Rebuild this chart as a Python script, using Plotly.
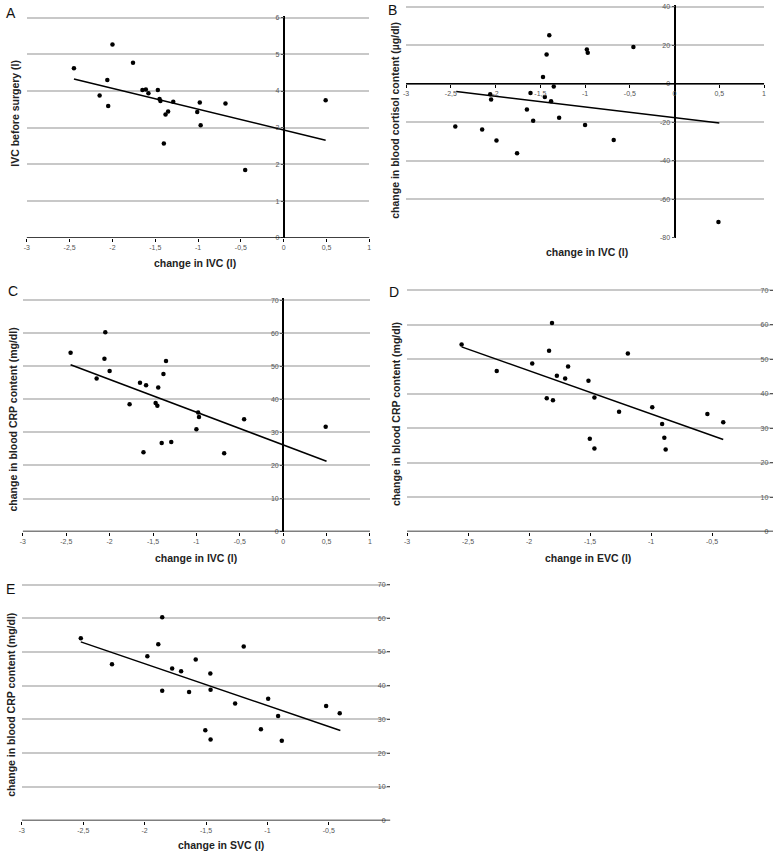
import plotly.graph_objects as go

W, H = 776, 858

# ---------------- data ----------------
# A: change in IVC vs IVC before surgery
a_x = [-2.45, -2.15, -2.06, -2.05, -2.00, -1.76, -1.65, -1.61, -1.58, -1.47, -1.45,
       -1.44, -1.40, -1.38, -1.35, -1.29, -1.01, -0.98, -0.97, -0.68, -0.45, 0.49]
a_y = [4.62, 3.88, 4.30, 3.59, 5.27, 4.77, 4.03, 4.04, 3.94, 4.03, 3.78,
       3.73, 2.57, 3.36, 3.44, 3.71, 3.43, 3.69, 3.07, 3.66, 1.85, 3.75]
a_trend_x = [-2.45, 0.49]
a_trend_y = [4.33, 2.66]

# B: change in IVC vs change in blood cortisol
b_x = [-2.45, -2.15, -2.06, -2.05, -1.99, -1.76, -1.65, -1.61, -1.58, -1.47, -1.45,
       -1.43, -1.40, -1.38, -1.35, -1.29, -1.00, -0.98, -0.97, -0.68, -0.46, 0.49]
b_y = [-22.2, -23.8, -5.5, -8.3, -29.6, -36.1, -13.4, -4.8, -19.3, 3.4, -6.9,
       15.1, 25.1, -9.1, -1.5, -17.7, -21.5, 17.7, 16.0, -29.3, 19.1, -71.9]
b_trend_x = [-2.44, 0.50]
b_trend_y = [-4.1, -20.4]

# C: change in IVC vs change in CRP
c_x = [-2.45, -2.15, -2.06, -2.05, -2.00, -1.77, -1.65, -1.61, -1.58, -1.47, -1.45,
       -1.44, -1.40, -1.38, -1.35, -1.29, -1.00, -0.98, -0.97, -0.68, -0.45, 0.49]
c_y = [54.1, 46.3, 52.3, 60.3, 48.6, 38.5, 45.0, 24.0, 44.3, 38.9, 38.1,
       43.6, 26.8, 47.7, 51.6, 27.1, 31.0, 36.0, 34.7, 23.7, 34.0, 31.7]
c_trend_x = [-2.45, 0.50]
c_trend_y = [50.5, 21.3]

# D: change in EVC vs change in CRP
d_x = [-2.553, -2.265, -1.974, -1.855, -1.836, -1.812, -1.804, -1.772, -1.704, -1.680, -1.513,
       -1.502, -1.464, -1.464, -1.262, -1.190, -0.990, -0.909, -0.891, -0.880, -0.538, -0.408]
d_y = [54.3, 46.6, 48.8, 38.7, 52.5, 60.5, 38.1, 45.2, 44.4, 47.9, 43.75,
       26.9, 38.9, 24.1, 34.8, 51.7, 36.1, 31.2, 27.2, 23.8, 34.1, 31.7]
d_trend_x = [-2.553, -0.408]
d_trend_y = [53.6, 26.7]

# E: change in SVC vs change in CRP
e_x = [-2.520, -2.266, -1.978, -1.889, -1.857, -1.857, -1.776, -1.703, -1.638, -1.584, -1.506,
       -1.465, -1.463, -1.463, -1.263, -1.193, -1.053, -0.994, -0.913, -0.883, -0.522, -0.411]
e_y = [54.1, 46.4, 48.7, 52.3, 60.3, 38.5, 45.1, 44.3, 38.1, 47.8, 26.8,
       43.6, 38.8, 24.0, 34.7, 51.6, 27.1, 36.1, 31.0, 23.7, 34.0, 31.8]
e_trend_x = [-2.52, -0.406]
e_trend_y = [53.0, 26.7]

# ticks
x_ticks_full = [-3, -2.5, -2, -1.5, -1, -0.5, 0, 0.5, 1]
x_ticktext_full = ["-3", "-2,5", "-2", "-1,5", "-1", "-0,5", "0", "0,5", "1"]
x_ticks_neg = [-3, -2.5, -2, -1.5, -1, -0.5]
x_ticktext_neg = ["-3", "-2,5", "-2", "-1,5", "-1", "-0,5"]
y_ticks_a = [0, 1, 2, 3, 4, 5, 6]
y_ticks_b = [-80, -60, -40, -20, 0, 20, 40]
y_ticks_crp = [0, 10, 20, 30, 40, 50, 60, 70]

# ---------------- layout helpers ----------------
FONT = "Liberation Sans, Arial, sans-serif"
TICKFONT = dict(family=FONT, size=7, color="#555555")
TITLEFONT = dict(family=FONT, size=10.5, color="#222222")
PAD = 2.0  # px of headroom above the top tick so its grid line is drawn

fig = go.Figure()
annotations = []
shapes = []
layout = {}


def px_x(p):
    return p / W


def px_y(p):
    return 1 - p / H


panels = [
    dict(letter="A", x=a_x, y=a_y, tx=a_trend_x, ty=a_trend_y, xr=[-3, 1], yr=[0, 6],
         xt=x_ticks_full, xtt=x_ticktext_full, yt=y_ticks_a,
         box=(24, 368.7, 15.7, 237.3), xtitle="change in IVC (l)",
         ytitle="IVC before surgery (l)", xtpos=(193, 263), ytpos=(12.5, 112),
         lpos=(8.5, 11.5)),
    dict(letter="B", x=b_x, y=b_y, tx=b_trend_x, ty=b_trend_y, xr=[-3, 1], yr=[-80, 40],
         xt=x_ticks_full, xtt=x_ticktext_full, yt=y_ticks_b,
         box=(405.7, 766, 4.7, 237), xtitle="change in IVC (l)",
         ytitle="change in blood cortisol content (µg/dl)", xtpos=(588, 251), ytpos=(395, 119),
         lpos=(392, 8)),
    dict(letter="C", x=c_x, y=c_y, tx=c_trend_x, ty=c_trend_y, xr=[-3, 1], yr=[0, 70],
         xt=x_ticks_full, xtt=x_ticktext_full, yt=y_ticks_crp,
         box=(20, 369.3, 300, 532.7), xtitle="change in IVC (l)",
         ytitle="change in blood CRP content (mg/dl)", xtpos=(194, 559), ytpos=(10, 420),
         lpos=(10, 290.5)),
    dict(letter="D", x=d_x, y=d_y, tx=d_trend_x, ty=d_trend_y, xr=[-3, 0], yr=[0, 70],
         xt=x_ticks_neg, xtt=x_ticktext_neg, yt=y_ticks_crp,
         box=(406.7, 775, 290, 532.7), xtitle="change in EVC (l)",
         ytitle="change in blood CRP content (mg/dl)", xtpos=(589, 559), ytpos=(395, 414),
         lpos=(393.5, 291.5)),
    dict(letter="E", x=e_x, y=e_y, tx=e_trend_x, ty=e_trend_y, xr=[-3, 0], yr=[0, 70],
         xt=x_ticks_neg, xtt=x_ticktext_neg, yt=y_ticks_crp,
         box=(19, 389.7, 586, 823.3), xtitle="change in SVC (l)",
         ytitle="change in blood CRP content (mg/dl)", xtpos=(219, 848), ytpos=(8, 707),
         lpos=(7.7, 590)),
]

for i, p in enumerate(panels):
    n = "" if i == 0 else str(i + 1)
    xa, ya = "x" + n, "y" + n
    l, r, t, b = p["box"]
    x0, x1 = p["xr"]
    y0, y1 = p["yr"]
    # add a little headroom above the top tick (grid lines at the range ends are not drawn)
    per_px = (y1 - y0) / (b - t)
    yrange = [y0, y1 + PAD * per_px]
    t = t - PAD
    xdom = [px_x(l), px_x(r)]
    ydom = [px_y(b), px_y(t)]
    # paper position of the crossing axes (x = 0 and y = 0)
    yaxis_pos = xdom[0] + (0 - x0) / (x1 - x0) * (xdom[1] - xdom[0])
    xaxis_pos = ydom[0] + (0 - yrange[0]) / (yrange[1] - yrange[0]) * (ydom[1] - ydom[0])
    y_at_right = (x1 == 0)

    fig.add_trace(go.Scatter(x=p["x"], y=p["y"], mode="markers", xaxis=xa, yaxis=ya,
                             marker=dict(symbol="circle", size=4.5, color="black"),
                             showlegend=False, cliponaxis=False))
    fig.add_trace(go.Scatter(x=p["tx"], y=p["ty"], mode="lines", xaxis=xa, yaxis=ya,
                             line=dict(color="black", width=1.5), showlegend=False))

    xaxis = dict(domain=xdom, range=p["xr"], tickvals=p["xt"], ticktext=p["xtt"],
                 showgrid=False, showline=False, zeroline=not y_at_right,
                 zerolinecolor="black", zerolinewidth=1.5,
                 ticks="outside", ticklen=3, tickcolor="black",
                 tickwidth=1, tickfont=TICKFONT, fixedrange=True)
    if y0 < 0:
        xaxis.update(anchor="free", position=xaxis_pos)
    else:
        xaxis.update(anchor=ya)

    yaxis = dict(domain=ydom, range=yrange, tickvals=p["yt"], ticktext=[str(v) for v in p["yt"]],
                 showgrid=True, gridcolor="#c8c8c8", gridwidth=1.5, zeroline=False,
                 showline=False, tickcolor="#555555", tickwidth=1, ticklen=3,
                 tickfont=TICKFONT, fixedrange=True)
    if y_at_right:
        yaxis.update(anchor=xa, side="right", ticks="inside", ticklabelposition="inside",
                     ticklabeloverflow="allow")
    else:
        yaxis.update(anchor="free", position=yaxis_pos, side="left", ticks="outside")
    layout["xaxis" + n] = xaxis
    layout["yaxis" + n] = yaxis

    # horizontal axis line at y = 0, spanning the whole x range
    shapes.append(dict(type="line", xref=xa + " domain", yref=ya, x0=0, x1=1, y0=0, y1=0,
                       line=dict(color="black", width=1.5), layer="above"))

    annotations.append(dict(text="<b>%s</b>" % p["xtitle"], x=px_x(p["xtpos"][0]),
                            y=px_y(p["xtpos"][1]), xref="paper", yref="paper",
                            showarrow=False, font=TITLEFONT, xanchor="center", yanchor="middle"))
    annotations.append(dict(text="<b>%s</b>" % p["ytitle"], x=px_x(p["ytpos"][0]),
                            y=px_y(p["ytpos"][1]), xref="paper", yref="paper",
                            showarrow=False, font=TITLEFONT, textangle=-90,
                            xanchor="center", yanchor="middle"))
    annotations.append(dict(text=p["letter"], x=px_x(p["lpos"][0]), y=px_y(p["lpos"][1]),
                            xref="paper", yref="paper", showarrow=False,
                            font=dict(family=FONT, size=14, color="#111111"),
                            xanchor="center", yanchor="middle"))

fig.update_layout(width=W, height=H, margin=dict(l=0, r=0, t=0, b=0),
                  paper_bgcolor="white", plot_bgcolor="white",
                  annotations=annotations, shapes=shapes, showlegend=False, **layout)

fig.write_html("out.html", config={"displayModeBar": False},
               post_script="document.body.style.margin='0';")
